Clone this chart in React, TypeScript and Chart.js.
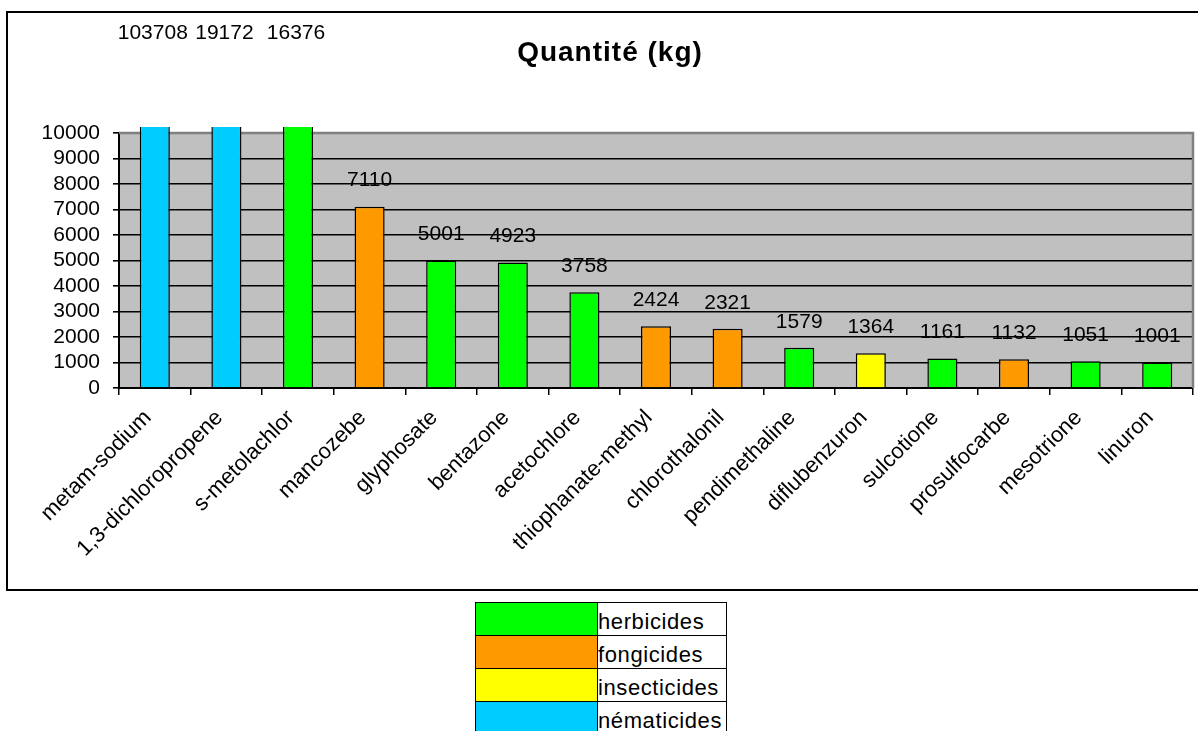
import React, { useEffect, useRef } from "react";
import { Chart, registerables } from "chart.js";

Chart.register(...registerables);

const categories = [
  "metam-sodium",
  "1,3-dichloropropene",
  "s-metolachlor",
  "mancozebe",
  "glyphosate",
  "bentazone",
  "acetochlore",
  "thiophanate-methyl",
  "chlorothalonil",
  "pendimethaline",
  "diflubenzuron",
  "sulcotione",
  "prosulfocarbe",
  "mesotrione",
  "linuron",
];
const quantities = [103708, 19172, 16376, 7110, 5001, 4923, 3758, 2424, 2321, 1579, 1364, 1161, 1132, 1051, 1001];
// 0 herbicides, 1 fongicides, 2 insecticides, 3 nématicides
const families = [3, 3, 0, 1, 0, 0, 0, 1, 1, 0, 2, 0, 1, 0, 0];
const familyNames = ["herbicides", "fongicides", "insecticides", "nématicides"];
const familyColors = ["#00FF00", "#FF9900", "#FFFF00", "#00CCFF"];
const yMin = 0;
const yMax = 10000;
const yStep = 1000;
const chartTitle = "Quantité (kg)";

const FONT = "'Liberation Sans', Arial, sans-serif";

const decoPlugin = {
  id: "deco",
  beforeDraw(chart: any) {
    const { ctx, chartArea: a } = chart;
    ctx.save();
    ctx.fillStyle = "#C0C0C0";
    ctx.fillRect(a.left, a.top, a.right - a.left, a.bottom - a.top);
    ctx.restore();
  },
  beforeDatasetsDraw(chart: any) {
    const { ctx, chartArea: a } = chart;
    ctx.save();
    ctx.strokeStyle = "#808080";
    ctx.lineWidth = 2.5;
    ctx.beginPath();
    ctx.moveTo(a.left, a.top);
    ctx.lineTo(a.right, a.top);
    ctx.lineTo(a.right, a.bottom);
    ctx.stroke();
    ctx.restore();
  },
  afterDatasetsDraw(chart: any) {
    const { ctx, chartArea: a } = chart;
    const meta = chart.getDatasetMeta(0);
    const data = chart.data.datasets[0].data as number[];
    ctx.save();
    ctx.fillStyle = "#000";
    ctx.font = `21px ${FONT}`;
    ctx.textAlign = "center";
    ctx.textBaseline = "middle";
    meta.data.forEach((el: any, i: number) => {
      const v = data[i];
      const y = v > yMax ? a.top - 100 : el.y - 26;
      const x = v > yMax ? el.x - 2 : el.x;
      ctx.fillText(String(v), x, y);
    });
    ctx.font = `bold 28px ${FONT}`;
    (ctx as any).letterSpacing = "1px";
    ctx.textBaseline = "alphabetic";
    ctx.fillText(chartTitle, 610, 61);
    ctx.restore();
  },
};

export default function App() {
  const canvasRef = useRef<HTMLCanvasElement>(null);

  useEffect(() => {
    const canvas = canvasRef.current;
    if (!canvas) return;
    const chart = new Chart(canvas, {
      type: "bar",
      data: {
        labels: categories,
        datasets: [
          {
            data: quantities,
            backgroundColor: families.map((f) => familyColors[f]),
            borderColor: "#000",
            borderWidth: 1.5,
            barPercentage: 0.42,
            categoryPercentage: 1,
            clip: { left: 0, top: 6, right: 0, bottom: 0 } as any,
          },
        ],
      },
      options: {
        responsive: false,
        animation: false,
        layout: { padding: { left: 19, top: 133, right: 5, bottom: 143 } },
        plugins: {
          legend: { display: false },
          tooltip: { enabled: false },
          title: { display: false },
        },
        scales: {
          x: {
            afterFit: (s: any) => {
              s.height = 200;
            },
            grid: {
              drawOnChartArea: false,
              drawTicks: true,
              tickLength: 7,
              color: "#000",
              lineWidth: 1.5,
              offset: true,
            },
            border: { color: "#000", width: 2 },
            ticks: {
              minRotation: 45,
              maxRotation: 45,
              autoSkip: false,
              color: "#000",
              font: { family: FONT, size: 22 },
              padding: 10,
              labelOffset: -7,
            },
          },
          y: {
            min: yMin,
            max: yMax,
            afterFit: (s: any) => {
              s.width = 100;
            },
            grid: {
              color: "#000",
              lineWidth: 1.6,
              drawTicks: true,
              tickLength: 6,
            },
            border: { color: "#000", width: 2 },
            ticks: {
              stepSize: yStep,
              autoSkip: false,
              color: "#000",
              font: { family: FONT, size: 21 },
              padding: 13,
              callback: (v: any) => String(v),
            },
          },
        },
      },
      plugins: [decoPlugin],
    });
    return () => chart.destroy();
  }, []);

  return (
    <div
      style={{
        position: "fixed",
        left: 0,
        top: 0,
        width: 1198,
        height: 731,
        overflow: "hidden",
        background: "#fff",
      }}
    >
      <div
        style={{
          position: "absolute",
          left: 6,
          top: 11,
          width: 1300,
          height: 576,
          border: "2px solid #000",
        }}
      />
      <canvas ref={canvasRef} width={1198} height={731} style={{ position: "absolute", left: 0, top: 0 }} />
      <table
        style={{
          position: "absolute",
          left: 475,
          top: 602,
          borderCollapse: "collapse",
          fontFamily: FONT,
          fontSize: 22,
          letterSpacing: "0.6px",
          background: "#fff",
        }}
      >
        <tbody>
          {familyNames.map((name, i) => (
            <tr key={name} style={{ height: 33 }}>
              <td
                style={{
                  width: 121,
                  padding: 0,
                  border: "1px solid #000",
                  background: familyColors[i],
                }}
              />
              <td
                style={{
                  width: 128,
                  padding: 0,
                  border: "1px solid #000",
                  verticalAlign: "bottom",
                  lineHeight: "26px",
                  whiteSpace: "nowrap",
                }}
              >
                {name}
              </td>
            </tr>
          ))}
        </tbody>
      </table>
    </div>
  );
}
